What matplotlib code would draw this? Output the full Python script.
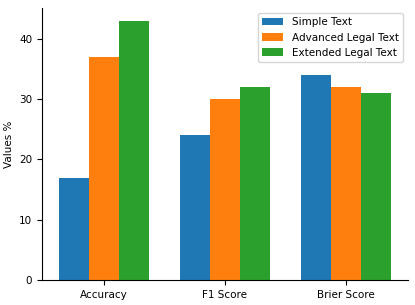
import numpy as np
from matplotlib import pyplot as plt

# data
metrics = ['Accuracy', 'F1 Score', 'Brier Score']
simple_text = [17, 24, 34]
advanced_legal = [37, 30, 32]
extended_legal = [43, 32, 31]

plt.rcParams['font.size'] = 7.5

fig = plt.figure(figsize=(4.15, 3.05), dpi=100)
ax = fig.add_axes([0.101, 0.082, 0.882, 0.892])

x = np.arange(len(metrics))
w = 0.25

ax.bar(x - w, simple_text, width=w, label='Simple Text')
ax.bar(x, advanced_legal, width=w, label='Advanced Legal Text')
ax.bar(x + w, extended_legal, width=w, label='Extended Legal Text')

ax.set_xticks(x)
ax.set_xticklabels(metrics)
ax.set_ylabel('Values %')
ax.set_yticks([0, 10, 20, 30, 40])

ax.spines['top'].set_visible(False)
ax.spines['right'].set_visible(False)

ax.legend(loc='upper right')

plt.savefig('out.png', dpi=100)
